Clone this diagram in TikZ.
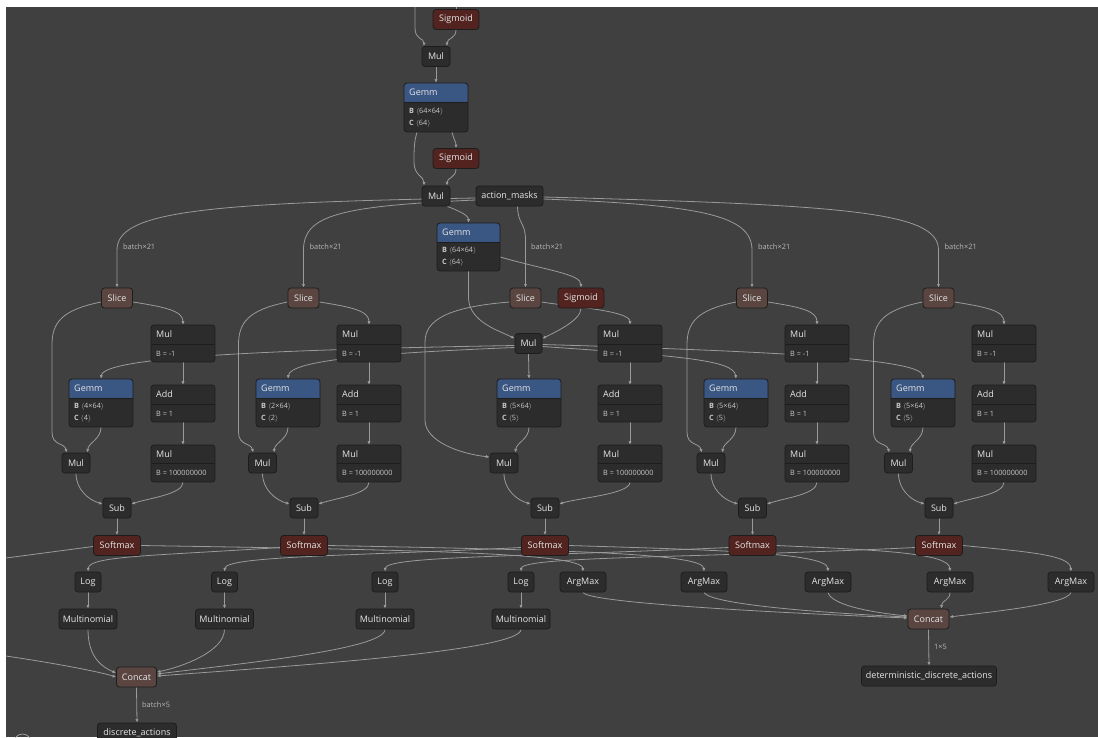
\documentclass[tikz,border=0pt]{standalone}
\usepackage{fontspec}
\setmainfont{Open Sans}
\usetikzlibrary{arrows.meta,calc,fit}
\definecolor{bgc}{HTML}{404040}
\definecolor{nodec}{HTML}{2C2C2C}
\definecolor{borderc}{HTML}{1D1D1D}
\definecolor{gemmc}{HTML}{3A5683}
\definecolor{actc}{HTML}{52231F}
\definecolor{shapec}{HTML}{5A4541}
\definecolor{edgec}{HTML}{9A9A9A}
\definecolor{txtc}{HTML}{E6E6E6}
\definecolor{attrc}{HTML}{C8C8C8}
\definecolor{lblc}{HTML}{B8B8B8}
\newcommand\ttlfont{\fontsize{9}{10}\selectfont}
\newcommand\attfont{\fontsize{7.3}{12}\selectfont}
\newcommand\lblfnt{\fontsize{7.4}{9}\selectfont}
\pgfdeclarelayer{bgl}
\pgfdeclarelayer{edl}
\pgfsetlayers{bgl,edl,main}
\tikzset{
  nbox/.style={draw=borderc, line width=0.8pt, rounded corners=3pt, fill=nodec, text=txtc, font=\ttlfont, inner sep=0pt, minimum height=20pt},
  actbox/.style={nbox, fill=actc},
  shpbox/.style={nbox, fill=shapec},
  edge/.style={draw=edgec, line width=0.8pt, -{Latex[length=3.6pt,width=3.2pt]}},
  plainedge/.style={draw=edgec, line width=0.8pt},
  lbl/.style={text=lblc, font=\lblfnt, anchor=west, inner sep=0pt},
}
% #1 name, #2 left, #3 top, #4 right, #5 split, #6 bottom, #7 header colour, #8 title, #9 attributes
\newcommand\hdrnode[9]{%
  \begin{scope}
    \clip[rounded corners=3pt] (#2,#3) rectangle (#4,#6);
    \fill[nodec] (#2,#3) rectangle (#4,#6);
    \fill[#7] (#2,#3) rectangle (#4,#5);
  \end{scope}
  \draw[borderc, line width=0.8pt, rounded corners=3pt] (#2,#3) rectangle (#4,#6);
  \draw[borderc, line width=0.7pt] (#2,#5) -- (#4,#5);
  \node[anchor=west, text=txtc, font=\ttlfont, inner sep=0pt] at ({#2+5},{(#3+#5)/2}) {#8};
  \node[anchor=west, text=attrc, font=\attfont, inner sep=0pt, align=left] at ({#2+5},{(#5+#6)/2+0.5}) {#9};
  \node[fit={(#2,#3) (#4,#6)}, inner sep=0pt] (#1) {};
}
% #1 k, #2 slice x, #3 mul/add left, #4 gemm left, #5 small mul x, #6 sub x, #7 size
\newcommand\branch[7]{%
  \node[shpbox, minimum width=31pt] (slice#1) at (#2,298) {Slice};
  \hdrnode{mn#1}{#3}{325}{#3+64}{344}{362}{nodec}{Mul}{B = -1}
  \hdrnode{gm#1}{#4}{379}{#4+64}{398}{427}{gemmc}{Gemm}{\textbf{B} $\langle$#7×64$\rangle$\\\textbf{C} $\langle$#7$\rangle$}
  \hdrnode{ad#1}{#3}{385}{#3+64}{404}{422}{nodec}{Add}{B = 1}
  \hdrnode{mb#1}{#3}{445}{#3+64}{463}{482}{nodec}{Mul}{B = 100000000}
  \node[nbox, minimum width=28pt] (ms#1) at (#5,463) {Mul};
  \node[nbox, minimum width=28pt] (sb#1) at (#6,508) {Sub};
  \node[actbox, minimum width=47pt] (sm#1) at (#6,545.5) {Softmax};
}
\newcommand\bredges[1]{%
  \draw[edge] ($(slice#1.east)+(0,4)$) .. controls +(32,5) and +(0,-14) .. (mn#1.north);
  \draw[edge] (mn#1.south) -- (ad#1.north);
  \draw[edge] (ad#1.south) -- (mb#1.north);
  \draw[edge] (gm#1.south) .. controls +(0,12) and +(1,-10) .. ($(ms#1.north east)+(-3,0)$);
  \draw[edge] (ms#1.south) .. controls +(0,16) and +(-14,-4) .. ($(sb#1.west)+(0,-4)$);
  \draw[edge] (mb#1.south) .. controls +(0,12) and +(18,-6) .. ($(sb#1.east)+(0,-4)$);
  \draw[edge] (sb#1.south) -- (sm#1.north);
}
\newcommand\leftpath[2]{%
  \draw[edge] ($(slice#1.west)+(0,4)$) .. controls +(-40,8) and +(0,-22) .. (#2,345) -- (#2,432) .. controls +(0,14) and +(-2,-10) .. ($(ms#1.north west)+(5,0)$);
}
\begin{document}
\begin{tikzpicture}[x=1pt,y=-1pt]
\useasboundingbox (0,0) rectangle (1098,737);
\begin{pgfonlayer}{bgl}
  \fill[white] (0,0) rectangle (1098,737);
  \fill[bgc] (6,7) rectangle (1098,737);
\end{pgfonlayer}

% ---------- top chain ----------
\node[actbox, minimum width=46pt] (sig1) at (456,19.5) {Sigmoid};
\node[nbox, minimum width=28pt] (mul1) at (436,56.5) {Mul};
\hdrnode{gemm0}{404}{83}{468}{102}{132}{gemmc}{Gemm}{\textbf{B} $\langle$64×64$\rangle$\\\textbf{C} $\langle$64$\rangle$}
\node[actbox, minimum width=46pt] (sig2) at (456,158.5) {Sigmoid};
\node[nbox, minimum width=28pt] (mul2) at (436,196) {Mul};
\node[nbox, minimum width=67pt] (amask) at (509.5,196) {action\_masks};
\hdrnode{gemmM}{437}{223}{500}{242}{271}{gemmc}{Gemm}{\textbf{B} $\langle$64×64$\rangle$\\\textbf{C} $\langle$64$\rangle$}
\node[actbox, minimum width=46pt] (sigM) at (581,298) {Sigmoid};
\node[nbox, minimum width=27pt] (mulM) at (528.5,343.5) {Mul};
\coordinate (inS1) at (456,7);
\coordinate (inM1) at (415,7);

% ---------- branches ----------
\branch{1}{117}{151}{69}{76}{117}{4}
\branch{2}{303.5}{337}{256}{262.5}{304}{2}
\branch{3}{525.5}{598}{497}{504}{545}{5}
\branch{4}{752}{785}{704}{711}{752.5}{5}
\branch{5}{938.5}{972}{891}{898.5}{939}{5}

% ---------- bottom ----------
\node[nbox, minimum width=26pt] (lg1) at (88,582) {Log};
\node[nbox, minimum width=26pt] (lg2) at (224.5,582) {Log};
\node[nbox, minimum width=26pt] (lg3) at (385,582) {Log};
\node[nbox, minimum width=26pt] (lg4) at (521,582) {Log};
\node[nbox, minimum width=58pt] (mt1) at (88,619) {Multinomial};
\node[nbox, minimum width=58pt] (mt2) at (224.5,619) {Multinomial};
\node[nbox, minimum width=58pt] (mt3) at (385,619) {Multinomial};
\node[nbox, minimum width=58pt] (mt4) at (521,619) {Multinomial};
\node[nbox, minimum width=46pt] (am1) at (583,582) {ArgMax};
\node[nbox, minimum width=46pt] (am2) at (704,582) {ArgMax};
\node[nbox, minimum width=46pt] (am3) at (828,582) {ArgMax};
\node[nbox, minimum width=46pt] (am4) at (950,582) {ArgMax};
\node[nbox, minimum width=46pt] (am5) at (1071,582) {ArgMax};
\node[shpbox, minimum width=40pt] (concatL) at (136.5,677) {Concat};
\node[nbox, minimum width=79pt] (discrete) at (137,733) {discrete\_actions};
\node[shpbox, minimum width=41pt] (concatR) at (928.5,619) {Concat};
\node[nbox, minimum width=135pt] (det) at (929,676) {deterministic\_discrete\_actions};
\coordinate (lg0) at (6,558);
\coordinate (mt0) at (6,656);

% ---------- labels ----------
\node[lbl] at (123,247) {batch×21};
\node[lbl] at (309.5,247) {batch×21};
\node[lbl] at (531,247) {batch×21};
\node[lbl] at (758,247) {batch×21};
\node[lbl] at (944.5,247) {batch×21};
\node[lbl] at (142,705) {batch×5};
\node[lbl] at (934,647) {1×5};

\draw[edgec!85, line width=0.7pt] (22.5,742.5) circle [radius=8.5pt];

% ---------- edges ----------
\begin{pgfonlayer}{edl}
\draw[plainedge] (inS1) -- (sig1.north);
\draw[edge] (inM1) -- (415,28) .. controls (415,40) and (424,38) .. ($(mul1.north)+(-12,0)$);
\draw[edge] (sig1.south) .. controls +(0,9) and +(0,-8) .. ($(mul1.north)+(11,0)$);
\draw[edge] (mul1.south) -- (gemm0.north);
\draw[edge] ($(gemm0.south)+(-19,0)$) .. controls (414,142) and (414,150) .. (414,162) .. controls (414,176) and (424,176) .. ($(mul2.north)+(-12,0)$);
\draw[edge] ($(gemm0.south)+(16,0)$) .. controls +(2,8) and +(0,-6) .. (sig2.north);
\draw[edge] (sig2.south) .. controls +(0,9) and +(0,-8) .. ($(mul2.north)+(11,0)$);
\draw[edge] ($(mul2.south east)+(-3,0)$) .. controls +(10,4) and +(0,-8) .. (gemmM.north);
\draw[edge] (gemmM.south) -- (468.5,298) .. controls (469,322) and (500,331) .. ($(mulM.west)+(0,-5)$);
\draw[edge] ($(gemmM.east)+(0,10)$) .. controls (545,270) and (581,274) .. (sigM.north);
\draw[edge] (sigM.south) .. controls +(0,12) and +(12,-6) .. ($(mulM.east)+(0,-5)$);

% action masks to slices
\draw[edge] ($(amask.west)+(0,2)$) .. controls (200,203) and (117,212) .. (117,250) -- (slice1.north);
\draw[edge] ($(amask.west)+(0,4)$) .. controls (340,206) and (303.5,215) .. (303.5,250) -- (slice2.north);
\draw[edge] ($(amask.south)+(8,0)$) .. controls (518,225) and (525.5,222) .. (525.5,240) -- (slice3.north);
\draw[edge] ($(amask.east)+(0,3)$) .. controls (700,205) and (752,215) .. (752,250) -- (slice4.north);
\draw[edge] ($(amask.east)+(0,1)$) .. controls (850,205) and (938.5,212) .. (938.5,250) -- (slice5.north);

% Mul (mid) to branch Gemms
\draw[edge] ($(mulM.west)+(0,2)$) .. controls (250,350) and (103,358) .. (gm1.north);
\draw[edge] ($(mulM.west)+(0,4)$) .. controls (380,353) and (290,360) .. (gm2.north);
\draw[edge] (mulM.south) -- (gm3.north);
\draw[edge] ($(mulM.east)+(0,3)$) .. controls (680,356) and (734,360) .. (gm4.north);
\draw[edge] ($(mulM.east)+(0,1)$) .. controls (800,352) and (921,360) .. (gm5.north);

% branch internals
\bredges{1}\bredges{2}\bredges{3}\bredges{4}\bredges{5}
\leftpath{1}{52}
\leftpath{2}{238.5}
\leftpath{4}{687}
\leftpath{5}{873.5}
\draw[edge] ($(slice3.west)+(0,4)$) .. controls +(-62,5) and +(0,-22) .. (425,342) -- (425,420) .. controls +(0,22) and +(-28,-3) .. ($(ms3.west)+(0,-6)$);

% softmax fan out
\draw[plainedge] ($(sm1.west)+(0,1)$) -- (lg0);
\draw[edge] (sm1.east) .. controls (420,550) and (582,553) .. (am1.north);
\draw[edge] ($(sm2.west)+(0,2)$) .. controls (150,556) and (89,556) .. (lg1.north);
\draw[edge] (sm2.east) .. controls (560,550) and (703,553) .. (am2.north);
\draw[edge] ($(sm3.west)+(0,2)$) .. controls (350,556) and (226,556) .. (lg2.north);
\draw[edge] (sm3.east) .. controls (720,550) and (827,553) .. (am3.north);
\draw[edge] ($(sm4.west)+(0,2)$) .. controls (520,557) and (386,556) .. (lg3.north);
\draw[edge] (sm4.east) .. controls (880,550) and (949,553) .. (am4.north);
\draw[edge] ($(sm5.west)+(0,2)$) .. controls (700,558) and (522,556) .. (lg4.north);
\draw[edge] (sm5.east) .. controls (1030,552) and (1070,555) .. (am5.north);

\draw[edge] (lg1.south) -- (mt1.north);
\draw[edge] (lg2.south) -- (mt2.north);
\draw[edge] (lg3.south) -- (mt3.north);
\draw[edge] (lg4.south) -- (mt4.north);

\draw[edge] (mt1.south) .. controls +(0,28) and +(-14,-6) .. ($(concatL.west)+(0,-4)$);
\draw[edge] (mt2.south) .. controls +(0,22) and +(25,-5) .. ($(concatL.east)+(0,-5)$);
\draw[edge] (mt3.south) .. controls +(0,20) and +(80,-10) .. ($(concatL.east)+(0,-3)$);
\draw[edge] (mt4.south) .. controls +(0,22) and +(120,-9) .. ($(concatL.east)+(0,-1)$);
\draw[edge] (mt0) .. controls (60,664) and (100,672) .. ($(concatL.west)+(0,0)$);
\draw[edge] (concatL.south) -- (discrete.north);

\draw[edge] (am1.south) .. controls +(5,10) and +(-150,-6) .. ($(concatR.west)+(0,-1)$);
\draw[edge] (am2.south) .. controls +(5,10) and +(-120,-6) .. ($(concatR.west)+(0,-2)$);
\draw[edge] (am3.south) .. controls +(3,12) and +(-40,-4) .. ($(concatR.west)+(0,-3)$);
\draw[edge] (am4.south) .. controls +(0,8) and +(0,-8) .. ($(concatR.north)+(13,0)$);
\draw[edge] (am5.south) .. controls +(-3,12) and +(40,-5) .. ($(concatR.east)+(0,-2)$);
\draw[edge] (concatR.south) -- (det.north);
\end{pgfonlayer}
\end{tikzpicture}
\end{document}
